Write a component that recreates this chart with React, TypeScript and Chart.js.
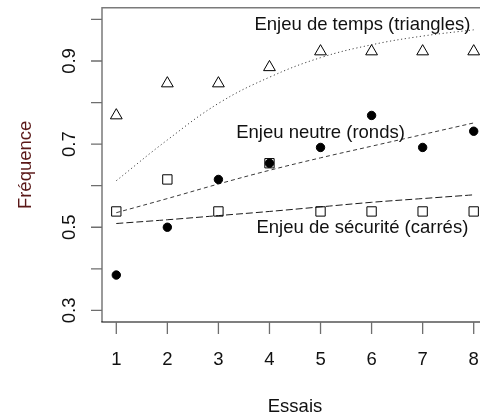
import { useEffect, useRef } from "react";
import { Chart, registerables } from "chart.js";

Chart.register(...registerables);

// ---- data ----
const trials = [1, 2, 3, 4, 5, 6, 7, 8];
const timeStake = [0.769, 0.846, 0.846, 0.885, 0.923, 0.923, 0.923, 0.923];
const neutralStake = [0.385, 0.5, 0.615, 0.654, 0.692, 0.769, 0.692, 0.731];
const safetyStake = [0.538, 0.615, 0.538, 0.654, 0.538, 0.538, 0.538, 0.538];
const timeFit = [0.612, 0.71, 0.798, 0.861, 0.908, 0.939, 0.96, 0.975];
const neutralFit = [0.535, 0.569, 0.604, 0.637, 0.667, 0.695, 0.723, 0.751];
const safetyFit = [0.509, 0.518, 0.528, 0.538, 0.549, 0.56, 0.569, 0.578];

const xTicks = [1, 2, 3, 4, 5, 6, 7, 8];
const xTickLabels = ["1", "2", "3", "4", "5", "6", "7", "8"];
const yTicks = [0.3, 0.4, 0.5, 0.6, 0.7, 0.8, 0.9, 1.0];
const yTickLabels = ["0.3", "", "0.5", "", "0.7", "", "0.9", ""];

const xTitle = "Essais";
const yTitle = "Fréquence";
const noteTexts = [
  "Enjeu de temps (triangles)",
  "Enjeu neutre (ronds)",
  "Enjeu de sécurité (carrés)",
];
const noteX = [5.82, 5.0, 5.82];
const noteY = [0.975, 0.715, 0.485];

const FONT = '18.5px "Liberation Sans", Arial, sans-serif';

const pts = (ys: number[]) => trials.map((t, i) => ({ x: t, y: ys[i] }));

const rPlot = {
  id: "rPlot",
  afterDraw(chart: any) {
    const { ctx, chartArea: a, scales } = chart;
    const xs = scales.x;
    const ys = scales.y;
    ctx.save();
    // box
    ctx.lineWidth = 1.5;
    ctx.strokeStyle = "#7a7a7a";
    ctx.beginPath();
    ctx.moveTo(a.left, a.bottom);
    ctx.lineTo(a.left, a.top);
    ctx.lineTo(a.right, a.top);
    ctx.lineTo(a.right, a.bottom);
    ctx.stroke();
    ctx.lineWidth = 1.2;
    ctx.strokeStyle = "#000";
    ctx.beginPath();
    ctx.moveTo(a.left - 0.7, a.bottom);
    ctx.lineTo(a.right, a.bottom);
    ctx.stroke();
    // ticks
    ctx.lineWidth = 1.3;
    ctx.strokeStyle = "#6e6e6e";
    ctx.beginPath();
    yTicks.forEach((v) => {
      const py = ys.getPixelForValue(v);
      ctx.moveTo(a.left - 11, py);
      ctx.lineTo(a.left, py);
    });
    xTicks.forEach((v) => {
      const px = xs.getPixelForValue(v);
      ctx.moveTo(px, a.bottom);
      ctx.lineTo(px, a.bottom + 12);
    });
    ctx.stroke();
    // tick labels
    ctx.font = FONT;
    ctx.fillStyle = "#111";
    ctx.textAlign = "center";
    ctx.textBaseline = "alphabetic";
    xTicks.forEach((v, i) => {
      ctx.fillText(xTickLabels[i], xs.getPixelForValue(v), a.bottom + 43);
    });
    yTicks.forEach((v, i) => {
      if (!yTickLabels[i]) return;
      ctx.save();
      ctx.translate(a.left - 27, ys.getPixelForValue(v));
      ctx.rotate(-Math.PI / 2);
      ctx.fillText(yTickLabels[i], 0, 0);
      ctx.restore();
    });
    // axis titles
    ctx.fillText(xTitle, (a.left + a.right) / 2, a.bottom + 89.5);
    ctx.save();
    ctx.fillStyle = "#5a1818";
    ctx.translate(31, (a.top + a.bottom) / 2);
    ctx.rotate(-Math.PI / 2);
    ctx.fillText(yTitle, 0, 0);
    ctx.restore();
    // notes
    ctx.fillStyle = "#111";
    noteTexts.forEach((t, i) => {
      ctx.fillText(t, xs.getPixelForValue(noteX[i]), ys.getPixelForValue(noteY[i]));
    });
    ctx.restore();
  },
};

export default function App() {
  const ref = useRef<HTMLCanvasElement | null>(null);
  useEffect(() => {
    document.body.style.margin = "0";
    document.body.style.background = "#fff";
    const canvas = ref.current!;
    const pointBase = {
      showLine: false,
      borderColor: "#000",
      borderWidth: 1,
    };
    const lineBase = {
      showLine: true,
      pointRadius: 0,
      pointHoverRadius: 0,
      borderWidth: 1,
      fill: false,
      tension: 0.4,
    };
    const chart = new Chart(canvas, {
      type: "scatter",
      data: {
        datasets: [
          {
            ...pointBase,
            label: "neutre",
            data: pts(neutralStake),
            pointStyle: "circle",
            pointRadius: 4.2,
            backgroundColor: "#000",
          },
          {
            ...pointBase,
            label: "temps",
            data: pts(timeStake),
            pointStyle: "triangle",
            pointRadius: 6.8,
            backgroundColor: "rgba(0,0,0,0)",
          },
          {
            ...pointBase,
            label: "sécurité",
            data: pts(safetyStake),
            pointStyle: "rect",
            pointRadius: 6.6,
            backgroundColor: "rgba(0,0,0,0)",
          },
          {
            ...lineBase,
            label: "fit temps",
            data: pts(timeFit),
            borderColor: "#444",
            borderDash: [1.2, 2.6],
          },
          {
            ...lineBase,
            label: "fit neutre",
            data: pts(neutralFit),
            borderColor: "#3a3a3a",
            borderDash: [4, 3],
          },
          {
            ...lineBase,
            label: "fit sécurité",
            data: pts(safetyFit),
            borderColor: "#1a1a1a",
            borderDash: [7, 3],
          },
        ],
      },
      options: {
        animation: false,
        responsive: false,
        devicePixelRatio: 1,
        events: [],
        layout: { padding: { left: 102, top: 6, right: 12, bottom: 94 } },
        plugins: {
          legend: { display: false },
          tooltip: { enabled: false },
        },
        scales: {
          x: { type: "linear", min: 0.72, max: 8.28, display: false },
          y: { type: "linear", min: 0.272, max: 1.028, display: false },
        },
      },
      plugins: [rPlot],
    });
    return () => chart.destroy();
  }, []);
  return (
    <div
      style={{
        position: "fixed",
        left: 0,
        top: 0,
        width: 480,
        height: 416,
        overflow: "hidden",
        background: "#fff",
      }}
    >
      <canvas ref={ref} width={500} height={416} style={{ width: 500, height: 416 }} />
    </div>
  );
}
